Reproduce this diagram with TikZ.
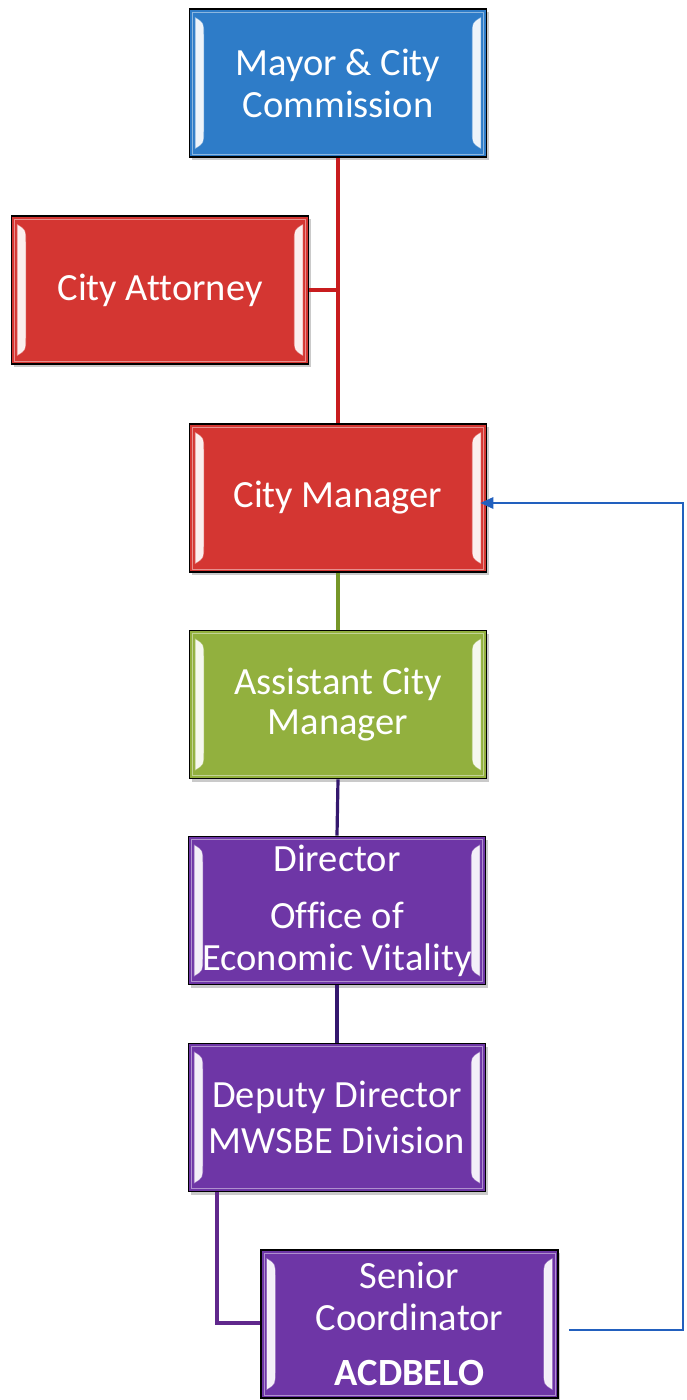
\documentclass[tikz,border=0pt]{standalone}
\usepackage{fontspec}
\setmainfont{Carlito}[Ligatures=NoCommon]
\usetikzlibrary{shadows,arrows.meta}

% box fills
\definecolor{boxblue}{RGB}{46,124,200}
\definecolor{boxred}{RGB}{212,54,50}
\definecolor{boxgreen}{RGB}{146,176,62}
\definecolor{boxpurple}{RGB}{110,54,166}
% connector colours
\definecolor{linered}{RGB}{200,28,30}
\definecolor{linegreen}{RGB}{118,150,40}
\definecolor{linepurple}{RGB}{52,24,110}
\definecolor{linelilac}{RGB}{96,40,140}
\definecolor{lineblue}{RGB}{34,96,190}

\newcommand\orgfont{\fontsize{38.5}{42}\selectfont}
\newcommand\pbb{path picture bounding box}

\tikzset{
  orgbox/.style={
    draw=black, line width=1.8pt, fill=#1,
    minimum width=297pt, minimum height=148pt, inner sep=0pt,
    text=white, align=center, font=\orgfont,
    drop shadow={shadow xshift=2pt, shadow yshift=-3pt, opacity=.35, fill=black!60},
    path picture={
      % inner highlight rim
      \draw[white, opacity=.45, line width=1pt]
        ([xshift=3pt,yshift=-3pt]\pbb.north west) rectangle
        ([xshift=-3pt,yshift=3pt]\pbb.south east);
      % bevel bars on the left and right
      \fill[white, opacity=.92, draw=white, draw opacity=.4, line width=1.2pt]
        ([xshift=6pt,yshift=-9pt]\pbb.north west)
          .. controls ([xshift=14pt,yshift=-14pt]\pbb.north west) ..
        ([xshift=14pt,yshift=-26pt]\pbb.north west) --
        ([xshift=14pt,yshift=26pt]\pbb.south west)
          .. controls ([xshift=14pt,yshift=14pt]\pbb.south west) ..
        ([xshift=6pt,yshift=9pt]\pbb.south west) -- cycle;
      \fill[white, opacity=.92, draw=white, draw opacity=.4, line width=1.2pt]
        ([xshift=-6pt,yshift=-9pt]\pbb.north east)
          .. controls ([xshift=-14pt,yshift=-14pt]\pbb.north east) ..
        ([xshift=-14pt,yshift=-26pt]\pbb.north east) --
        ([xshift=-14pt,yshift=26pt]\pbb.south east)
          .. controls ([xshift=-14pt,yshift=14pt]\pbb.south east) ..
        ([xshift=-6pt,yshift=9pt]\pbb.south east) -- cycle;
    }
  },
  link/.style={line width=3.2pt, draw=#1},
}

\begin{document}
\begin{tikzpicture}[x=1pt, y=-1pt]
  \useasboundingbox (0,0) rectangle (686,1400);

  % boxes
  \node[orgbox=boxblue]   (mayor)     at (338,83)    {Mayor \& City\\Commission};
  \node[orgbox=boxred]    (attorney)  at (160,290)   {City Attorney};
  \node[orgbox=boxred]    (manager)   at (338,498)   {City Manager};
  \node[orgbox=boxgreen]  (assistant) at (338,704.5) {Assistant City\\[-2pt]Manager};
  \node[orgbox=boxpurple] (director)  at (337,910.5)
    {\fontsize{38.5}{40}\selectfont Director\\[15pt]Office of\\Economic Vitality};
  \node[orgbox=boxpurple] (deputy)    at (337,1117.5) {Deputy Director\\[4pt]MWSBE Division};
  \node[orgbox=boxpurple] (senior)    at (409.5,1324)
    {\fontsize{38.5}{40}\selectfont Senior\\Coordinator\\[13pt]\textbf{ACDBELO}};

  % reporting lines
  \draw[link=linered, line width=3.6pt] (mayor.south) -- (manager.north);
  \draw[link=linered] (attorney.east) -- (attorney.east -| mayor.south);
  \draw[link=linegreen] (manager.south) -- (assistant.north);
  \draw[link=linepurple] (assistant.south) -- (director.north);
  \draw[link=linepurple] (director.south) -- (deputy.north);
  \coordinate (bend) at (217,1323);
  \draw[link=linelilac] (deputy.south -| bend) -- (bend) -- (bend -| senior.west);

  % feedback line to the City Manager
  \coordinate (rightrail) at (683,1330);
  \coordinate (cmentry) at ([xshift=-7pt,yshift=-5pt]manager.east);
  \coordinate (scexit) at ([xshift=10pt,yshift=-6pt]senior.east);
  \draw[lineblue, line width=1.8pt]
    (scexit) -- (rightrail) -- (rightrail |- cmentry) -- ([xshift=12pt]cmentry);
  \fill[lineblue] (cmentry) -- ++(13,-6) -- ++(0,12) -- cycle;
\end{tikzpicture}
\end{document}
